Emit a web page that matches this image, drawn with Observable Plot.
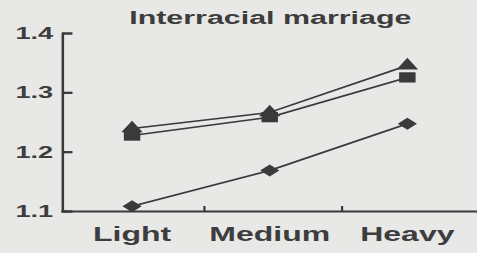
<!DOCTYPE html>
<html>
<head>
<meta charset="utf-8">
<script src="https://cdn.jsdelivr.net/npm/d3@7"></script>
<script src="https://cdn.jsdelivr.net/npm/@observablehq/plot@0.6"></script>
<style>
  html, body { margin: 0; padding: 0; background: #e8e8e6; overflow: hidden; }
  #chart { width: 477px; height: 253px; }
  #chart svg { transform-origin: 0 0; display: block; }
</style>
</head>
<body>
<div id="chart"></div>
<script>
const title = "Interracial marriage";
const categories = ["Light", "Medium", "Heavy"];
const triangleSeries = [1.24, 1.267, 1.346];
const squareSeries = [1.228, 1.259, 1.326];
const diamondSeries = [1.109, 1.169, 1.248];
const yTicks = [1.1, 1.2, 1.3, 1.4];

const rows = [
  ...categories.map((c, i) => ({cat: c, value: triangleSeries[i], series: "triangle"})),
  ...categories.map((c, i) => ({cat: c, value: squareSeries[i], series: "square"})),
  ...categories.map((c, i) => ({cat: c, value: diamondSeries[i], series: "diamond"}))
];

const W = 298, stretch = 477 / W;
const mL = 38.75, mR = 0;
const bw = (W - mL - mR) / categories.length;
const ink = "#3a3a3a";

const chart = Plot.plot({
  width: W,
  height: 253,
  marginLeft: mL,
  marginRight: mR,
  marginTop: 33,
  marginBottom: 42,
  style: {fontFamily: "'Liberation Sans', Arial, sans-serif", fontWeight: "bold", color: "#3d3d3d", background: "transparent"},
  x: {type: "band", domain: categories, padding: 0, axis: null},
  y: {domain: [1.1, 1.4], axis: null},
  marks: [
    Plot.axisY({ticks: yTicks, tickFormat: d => d.toFixed(1), tickSize: 0, tickPadding: 6, label: null, fontSize: 17, fill: "#3d3d3d"}),
    Plot.axisX({tickSize: 0, tickPadding: 15, label: null, fontSize: 20, fill: "#3d3d3d"}),
    Plot.ruleY(yTicks, {y: d => d, x1: () => "Light", x2: () => "Light", insetRight: bw - 6.5, stroke: ink, strokeWidth: 2}),
    Plot.tickY(yTicks, {y: d => d, insetRight: W - mL - mR - 6.5, stroke: ink, strokeWidth: 2}),
    Plot.frame({anchor: "left", stroke: ink, strokeWidth: 1.6}),
    Plot.frame({anchor: "bottom", stroke: ink, strokeWidth: 2}),
    Plot.ruleX(categories.slice(0, 2), {x: d => d, dx: bw / 2 + 2, y1: 1.1, y2: 1.1, insetTop: -5, stroke: ink, strokeWidth: 1.4}),
    Plot.line(rows, {x: "cat", y: "value", z: "series", stroke: ink, strokeWidth: 1.6}),
    Plot.dot(rows.filter(d => d.series === "triangle"), {x: "cat", y: "value", symbol: "triangle", r: 5, fill: ink, stroke: "none"}),
    Plot.dot(rows.filter(d => d.series === "square"), {x: "cat", y: "value", symbol: "square", r: 5.8, fill: ink, stroke: "none"}),
    Plot.dot(rows.filter(d => d.series === "diamond"), {x: "cat", y: "value", symbol: d3.symbolDiamond2, r: 5.4, fill: ink, stroke: "none"}),
    Plot.text([title], {frameAnchor: "top", lineAnchor: "bottom", dy: -10, fontSize: 19, fill: "#3d3d3d"})
  ]
});
chart.style.transform = `scaleX(${stretch})`;
document.getElementById("chart").appendChild(chart);
</script>
</body>
</html>
